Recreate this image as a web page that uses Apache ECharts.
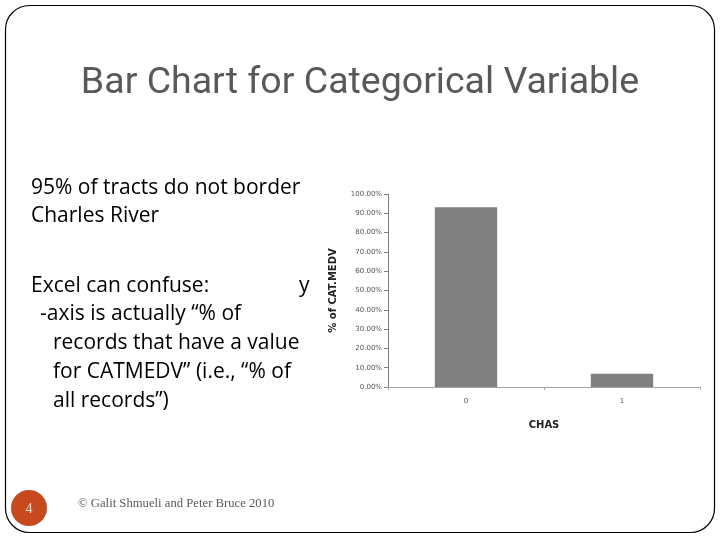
<!DOCTYPE html>
<html>
<head>
<meta charset="utf-8">
<script src="https://cdn.jsdelivr.net/npm/echarts@6/dist/echarts.min.js"></script>
<style>html,body{margin:0;padding:0;background:#fff;}#chart{width:720px;height:540px;}</style>
</head>
<body>
<div id="chart"></div>
<script>
// ---- data ----
const categories = ['0', '1'];
const pctCatMedv = [93.08, 6.92];
const yTicks = [0, 10, 20, 30, 40, 50, 60, 70, 80, 90, 100];
const titleText = 'Bar Chart for Categorical Variable';
const bodyLines = [
  '95% of tracts do not border',
  'Charles River',
  'Excel can confuse:',
  '-axis is actually \u201c% of',
  'records that have a value',
  'for CATMEDV\u201d (i.e., \u201c% of',
  'all records\u201d)'
];
const footerText = '\u00a9 Galit Shmueli and Peter Bruce 2010';
const pageNumber = '4';

const chart = echarts.init(document.getElementById('chart'), null, {renderer: 'canvas'});
const bodyFont = 'Open Sans';
const bodyStyle = {fontFamily: bodyFont, fontSize: 21, fill: '#000'};
const bodyPos = [[31,188],[31,216],[31,286],[40,314],[53,343],[53,372],[53,401]];

const graphics = [
  {type: 'rect', shape: {x: 5.5, y: 5.5, width: 709, height: 527, r: 24}, style: {fill: 'none', stroke: '#000', lineWidth: 1.2}, z: 1},
  {type: 'text', x: 360, y: 84, style: {text: titleText, fontFamily: 'Roboto', fontSize: 37.5, fill: '#595959', align: 'center', verticalAlign: 'middle'}, z: 2},
  {type: 'circle', shape: {cx: 29, cy: 508, r: 18}, style: {fill: '#C64A1D'}, z: 2},
  {type: 'text', x: 29, y: 509, style: {text: pageNumber, fontFamily: 'Liberation Serif', fontSize: 14, fill: '#f3e1d8', align: 'center', verticalAlign: 'middle'}, z: 3},
  {type: 'text', x: 78, y: 504, style: {text: footerText, fontFamily: 'Liberation Serif', fontSize: 12.7, fill: '#595959', align: 'left', verticalAlign: 'middle'}, z: 2},
  {type: 'text', x: 299, y: 286, style: {text: 'y', fontFamily: bodyFont, fontSize: 21, fill: '#000', align: 'left', verticalAlign: 'middle'}, z: 2}
];
bodyLines.forEach((t, i) => {
  graphics.push({type: 'text', x: bodyPos[i][0], y: bodyPos[i][1], style: Object.assign({text: t, align: 'left', verticalAlign: 'middle'}, bodyStyle), z: 2});
});

chart.setOption({
  backgroundColor: '#fff',
  animation: false,
  grid: {left: 388, right: 20, top: 194, bottom: 153, containLabel: false},
  xAxis: {
    type: 'category',
    data: categories,
    name: 'CHAS',
    nameLocation: 'middle',
    nameGap: 33,
    nameTextStyle: {fontFamily: 'DejaVu Sans', fontWeight: 'bold', fontSize: 10, color: '#222'},
    axisLine: {lineStyle: {color: '#a6a6a6', width: 1}},
    axisTick: {show: true, length: 3, lineStyle: {color: '#a6a6a6'}},
    axisLabel: {fontFamily: 'DejaVu Sans', fontSize: 7, color: '#555', margin: 11}
  },
  yAxis: {
    type: 'value',
    min: yTicks[0],
    max: yTicks[yTicks.length - 1],
    interval: 10,
    name: '% of CAT.MEDV',
    nameLocation: 'middle',
    nameGap: 50,
    nameRotate: 90,
    nameTextStyle: {fontFamily: 'DejaVu Sans', fontWeight: 'bold', fontSize: 10, color: '#222'},
    axisLine: {show: true, lineStyle: {color: '#7f7f7f', width: 1}},
    axisTick: {show: true, length: 4, lineStyle: {color: '#7f7f7f'}},
    splitLine: {show: false},
    axisLabel: {fontFamily: 'DejaVu Sans', fontSize: 7, color: '#555', margin: 6, formatter: v => v.toFixed(2) + '%'}
  },
  series: [{
    type: 'bar',
    data: pctCatMedv,
    barWidth: '40%',
    itemStyle: {color: '#808080'}
  }],
  graphic: graphics
});
</script>
</body>
</html>
